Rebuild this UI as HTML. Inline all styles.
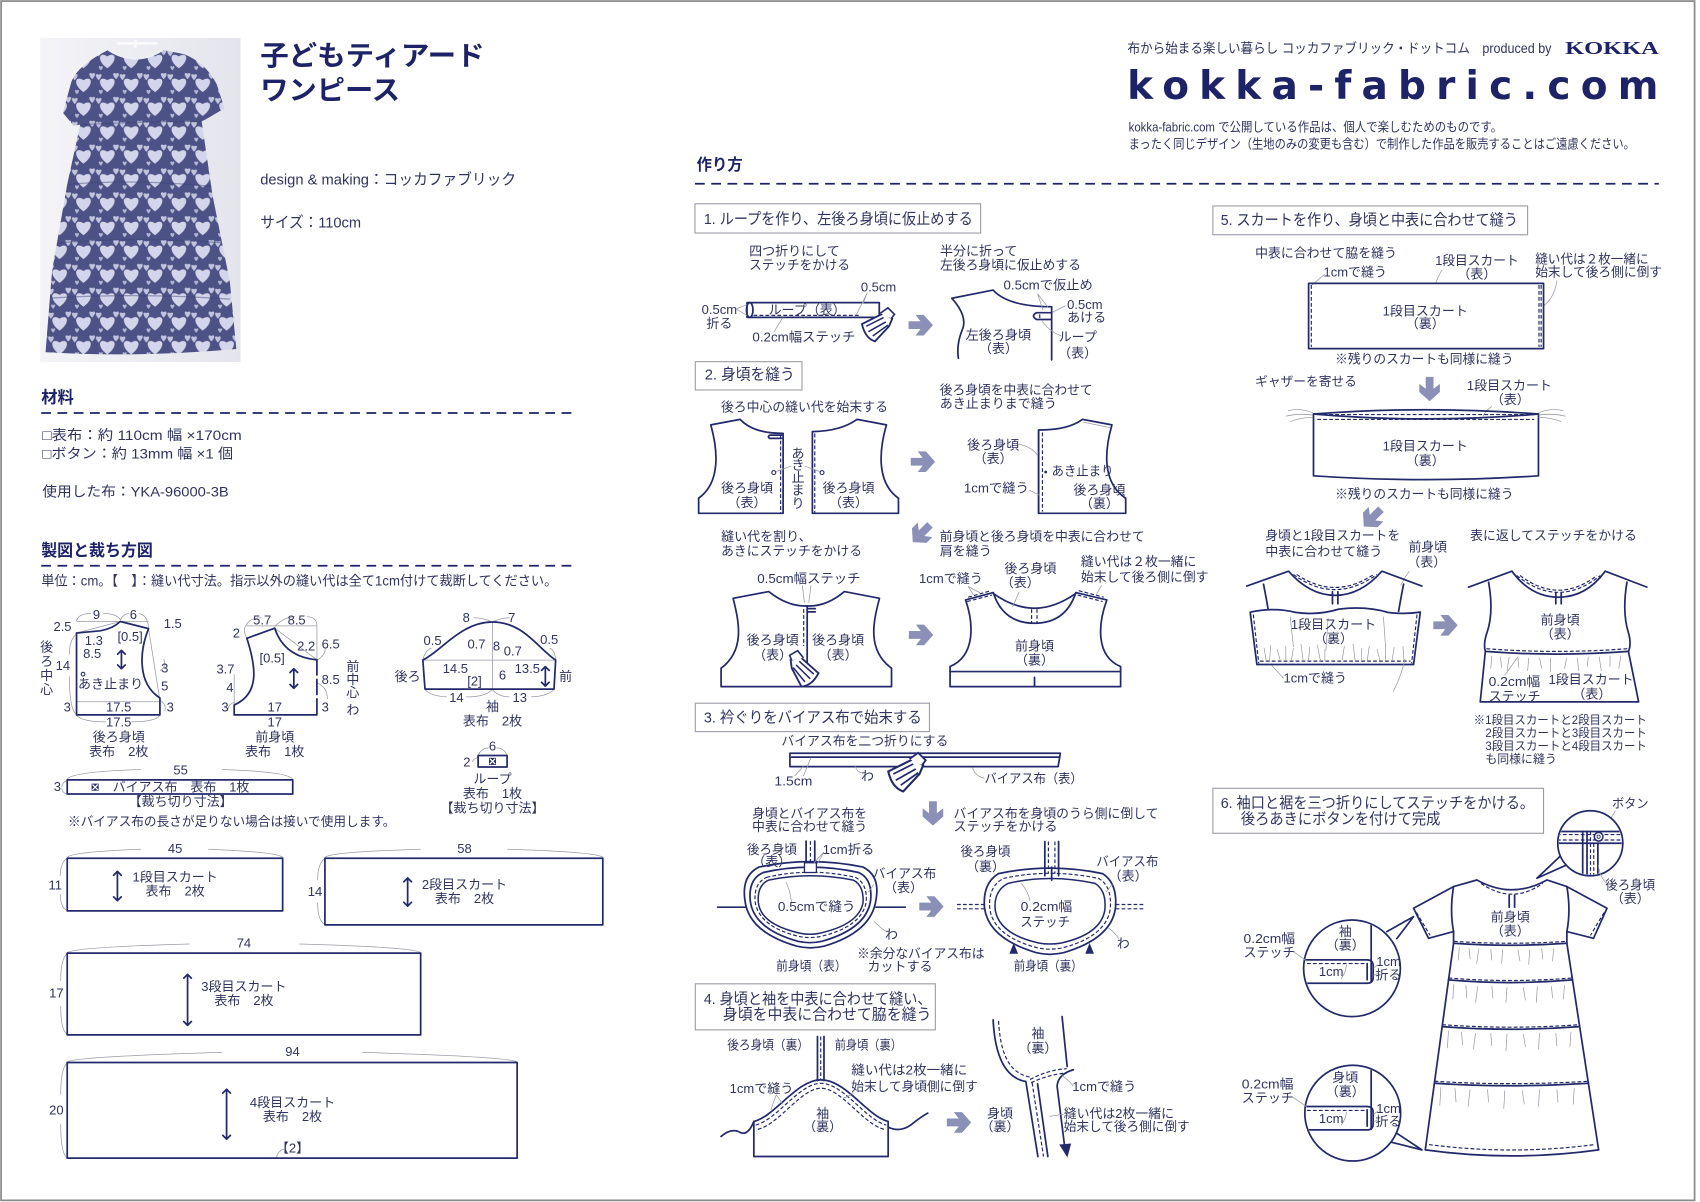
<!DOCTYPE html>
<html><head><meta charset="utf-8">
<style>
html,body{margin:0;padding:0;background:#fff;}
svg{display:block}
text{font-family:"Liberation Sans","Noto Sans CJK JP",sans-serif;fill:#30345f;}
.m{text-anchor:middle}
.e{text-anchor:end}
.h{font-weight:bold;fill:#1d2366}
.ln{fill:none;stroke:#232a6c;stroke-width:1.6;stroke-linejoin:round;stroke-linecap:round}
.lw{fill:#fff;stroke:#232a6c;stroke-width:1.6;stroke-linejoin:round}
.th{fill:none;stroke:#9a9aa6;stroke-width:0.7}
.ds{fill:none;stroke:#232a6c;stroke-width:1.1;stroke-dasharray:3.5 2}
.dl{fill:none;stroke:#1d2366;stroke-width:1.6;stroke-dasharray:9 6}
.gt{fill:none;stroke:#8e8e9c;stroke-width:0.6}
.bx{fill:#fff;stroke:#9a9aa6;stroke-width:1}
</style></head><body>
<svg width="1700" height="1202" viewBox="0 0 1568 1109" preserveAspectRatio="none" xmlns="http://www.w3.org/2000/svg">
<defs>
<pattern id="hp" width="22" height="22" patternUnits="userSpaceOnUse">
<rect width="22" height="22" fill="#4c5286"/>
<path d="M11,19 C1,12 3,3 11,8 C19,3 21,12 11,19Z" fill="#d3d6ea"/>
<path d="M3,8 C-1,4 0,1 3,3 C6,1 7,4 3,8Z" fill="#c0c4dc"/>
<path d="M19,7 C15,3 16,0 19,2 C22,0 23,3 19,7Z" fill="#c0c4dc"/>
<path d="M5,21 C2,18 3,16 5,17.5 C7,16 8,18 5,21Z" fill="#b4b8d4"/>
</pattern>
<linearGradient id="pbg" x1="0" y1="0" x2="1" y2="0">
<stop offset="0" stop-color="#f4f4f7"/><stop offset="1" stop-color="#e4e5ec"/>
</linearGradient>
<clipPath id="pc"><rect x="37" y="35" width="185" height="299"/></clipPath>
<clipPath id="c1"><circle cx="1466.8" cy="778" r="29"/></clipPath>
<clipPath id="c2"><circle cx="1247" cy="893.4" r="43.6"/></clipPath>
<clipPath id="c3"><circle cx="1247.7" cy="1027" r="43.2"/></clipPath>
<g id="arr"><path d="M-11,-3.6 L0,-3.6 L-4.5,-9.5 L3,-9.5 L11.5,0 L3,9.5 L-4.5,9.5 L0,3.6 L-11,3.6 Z" fill="#8a90b6"/></g>
<g id="iron">
<path d="M2,12 L22,2 L30,7 L27,14 L14,28 Q5,25 2,12 Z" fill="#fff" stroke="#232a6c" stroke-width="1.7"/>
<path d="M6,14 L22,6 M8,19 L24,10 M12,23 L26,13" stroke="#232a6c" stroke-width="1.4" fill="none"/>
<path d="M19,2 L26,-3 L32,3 L29,7" fill="#fff" stroke="#232a6c" stroke-width="1.5"/>
</g>
</defs>

<!-- frame -->
<rect x="1" y="1" width="1562" height="1106.5" fill="none" stroke="#8a8a8a" stroke-width="1.6"/>

<!-- photo -->
<g clip-path="url(#pc)">
<rect x="37" y="35" width="185" height="299" fill="url(#pbg)"/>
<path d="M100,46 Q125,62 150,46 L170,50 Q190,58 200,78 L207,100 L190,110 L186,112 L196,180 L212,260 L218,322 Q130,330 42,325 L48,250 L62,170 L74,115 L68,116 L58,104 L66,75 Q72,60 100,46 Z" fill="url(#hp)"/>
<path d="M100,46 Q125,62 150,46" fill="none" stroke="#eef0f6" stroke-width="2"/>
<path d="M108,40 L145,40 M125,37 L125,44" stroke="#fafafa" stroke-width="2.5"/>
<path d="M74,115 Q130,112 186,112 M63,170 Q128,165 195,172 M54,224 Q130,218 204,224 M47,275 Q130,270 212,276" stroke="#3a4074" stroke-width="1.2" fill="none" opacity="0.45"/>
</g>

<!-- title -->
<text x="240" y="60" font-size="25" class="h" textLength="207" lengthAdjust="spacingAndGlyphs">子どもティアード</text>
<text x="240" y="92" font-size="25" class="h" textLength="129" lengthAdjust="spacingAndGlyphs">ワンピース</text>
<text x="240" y="170" font-size="14" textLength="236" lengthAdjust="spacingAndGlyphs">design &amp; making：コッカファブリック</text>
<text x="240" y="210" font-size="14" textLength="93" lengthAdjust="spacingAndGlyphs">サイズ：110cm</text>

<!-- materials -->
<text x="38" y="372" font-size="15" class="h" textLength="30" lengthAdjust="spacingAndGlyphs">材料</text>
<line x1="38" y1="381" x2="530" y2="381" class="dl"/>
<text x="39" y="406" font-size="13" textLength="184" lengthAdjust="spacingAndGlyphs">□表布：約 110cm 幅 ×170cm</text>
<text x="39" y="423" font-size="13" textLength="176" lengthAdjust="spacingAndGlyphs">□ボタン：約 13mm 幅 ×1 個</text>
<text x="39" y="458" font-size="13" textLength="172" lengthAdjust="spacingAndGlyphs">使用した布：YKA-96000-3B</text>

<text x="38" y="513" font-size="15" class="h" textLength="103" lengthAdjust="spacingAndGlyphs">製図と裁ち方図</text>
<line x1="38" y1="522" x2="530" y2="522" class="dl"/>
<text x="38" y="540" font-size="12.5" textLength="476" lengthAdjust="spacingAndGlyphs">単位：cm。【　】：縫い代寸法。指示以外の縫い代は全て1cm付けて裁断してください。</text>

<!-- back bodice pattern -->
<g font-size="12">
<path d="M70.6,573.4 H137 M70.6,647.5 H147.5 M70.6,584 L111,573.4 M137,580 L147.5,646" class="th"/>
<path d="M70.6,573 Q72,566 84,566 M95,566 Q108,566 111,572 M111,572 Q114,566 119,566 M128,566 Q136,567 137,579 M70.6,585 Q64,590 64,604 M64,624 Q64,655 70.6,659 M70.6,660 Q76,666 98,666 M121,666 Q143,666 147.5,660 M147.5,646 Q154,650 152,656 M147.5,619 Q154,615 151,608" class="th"/>
<path d="M70.6,584 L92.5,582 Q104,580 111,573.4 L137,580 C129,600 126,630 147.5,644 L147.5,659.6 L70.6,659.6 Z" class="ln" stroke-width="2"/>
<text x="89" y="571.3" class="m">9</text>
<text x="123" y="571.3" class="m">6</text>
<text x="66" y="582.3" class="e">2.5</text>
<text x="151" y="579.3">1.5</text>
<text x="86.5" y="595.3" class="m">1.3</text>
<text x="120" y="591.3" class="m">[0.5]</text>
<text x="85" y="607.3" class="m">8.5</text>
<text x="58" y="618.3" class="m">14</text>
<text x="152" y="620.3" class="m">3</text>
<text x="152" y="637.3" class="m">5</text>
<text x="102" y="635.3" class="m" textLength="60" lengthAdjust="spacingAndGlyphs">あき止まり</text>
<circle cx="76.6" cy="622" r="1.7" fill="none" stroke="#232a6c" stroke-width="1"/>
<path d="M112,600 V617 M108.5,603.5 L112,600 L115.5,603.5 M108.5,613.5 L112,617 L115.5,613.5" class="ln" stroke-width="1.8"/>
<text x="62" y="656.3" class="m">3</text>
<text x="157" y="656.3" class="m">3</text>
<text x="109.5" y="656.3" class="m">17.5</text>
<text x="109.5" y="670.3" class="m">17.5</text>
<text x="43" y="601.3" class="m">後</text><text x="43" y="614.3" class="m">ろ</text><text x="43" y="627.3" class="m">中</text><text x="43" y="640.3" class="m">心</text>
<text x="109.5" y="684" class="m">後ろ身頃</text>
<text x="109.5" y="697.3" class="m">表布　2枚</text>
</g>

<!-- front bodice pattern -->
<g font-size="12">
<path d="M227.7,577.5 H292.3 V608.8 M253.4,579.6 L292.3,608.8 M216,622 V650" class="th"/>
<path d="M227.7,589 Q223,580 228,576 M241,570 Q230,570 227,577 M253.4,578 Q262,569 272,569 M292.3,577 Q292,569 283,569 M292.3,609 Q300,605 300,598 M292.3,630 Q302,634 302,645 M216,648 Q210,650 210,656" class="th"/>
<path d="M227.7,588.9 L253.4,579.6 Q262,606 292.3,608.8" class="ln" stroke-width="2"/>
<path d="M292.3,608.8 V659.6" class="ln" stroke-width="2.2" stroke-dasharray="14 4"/>
<path d="M227.7,588.9 C236,615 240,640 216,650.5 L216,659.6 L292.3,659.6" class="ln" stroke-width="2"/>
<text x="241.8" y="576.3" class="m">5.7</text>
<text x="273.6" y="576.3" class="m">8.5</text>
<text x="218" y="588.3" class="m">2</text>
<text x="282.4" y="600.3" class="m">2.2</text>
<text x="305" y="598.3" class="m">6.5</text>
<text x="251" y="611.3" class="m">[0.5]</text>
<text x="208" y="621.3" class="m">3.7</text>
<text x="212" y="638.3" class="m">4</text>
<path d="M271,617 V635 M267.5,620.5 L271,617 L274.5,620.5 M267.5,631.5 L271,635 L274.5,631.5" class="ln" stroke-width="1.8"/>
<text x="305" y="631.3" class="m">8.5</text>
<text x="325.5" y="619.3" class="m">前</text><text x="325.5" y="631.3" class="m">中</text><text x="325.5" y="643.3" class="m">心</text>
<text x="325.5" y="659.3" class="m">わ</text>
<text x="207.5" y="656.3" class="m">3</text>
<text x="300" y="656.3" class="m">3</text>
<text x="253.4" y="656.3" class="m">17</text>
<text x="253.4" y="670.3" class="m">17</text>
<text x="253.4" y="684" class="m">前身頃</text>
<text x="253.4" y="697.3" class="m">表布　1枚</text>
</g>

<!-- sleeve pattern -->
<g font-size="12">
<path d="M390,609 H512.5 M454.3,573.9 V635.8" class="th"/>
<path d="M390,609 Q392,600 398,598 M437,570 Q446,570 454,574 M454,574 Q462,570 470,570 M507,598 Q512,600 512.5,609 M392,636 Q396,642 412,643 M430,643 Q448,643 454,636 M454,636 Q460,643 470,643 M490,643 Q506,642 511,636" class="th"/>
<path d="M390,609 C408,600 425,574 454.3,573.9 C483,574 496,598 512.5,609 L511,635.8 L392,635.8 Z" class="ln" stroke-width="2"/>
<text x="430" y="573.9" class="m">8</text>
<text x="472" y="573.9" class="m">7</text>
<text x="399" y="595.3" class="m">0.5</text>
<text x="439.5" y="598.3" class="m">0.7</text>
<text x="458" y="600.3" class="m">8</text>
<text x="473" y="604.9" class="m">0.7</text>
<text x="506.5" y="594.3" class="m">0.5</text>
<text x="376" y="628.3" class="m">後ろ</text>
<text x="420" y="620.8" class="m">14.5</text>
<text x="463.5" y="627" class="m">6</text>
<text x="486.4" y="620.8" class="m">13.5</text>
<text x="521.7" y="628.3" class="m">前</text>
<text x="437.7" y="632.3" class="m">[2]</text>
<path d="M503,615 V633 M499.5,618.5 L503,615 L506.5,618.5 M499.5,629.5 L503,633 L506.5,629.5" class="ln" stroke-width="2"/>
<text x="421" y="647.9" class="m">14</text>
<text x="479.4" y="647.9" class="m">13</text>
<text x="454.3" y="656.1" class="m">袖</text>
<text x="454.3" y="669.2" class="m">表布　2枚</text>
</g>

<!-- loop pattern -->
<g font-size="12">
<path d="M441,697 Q444,690 451,690 M458,690 Q465,690 467.7,697 M441,699 Q436,700 436,703" class="th"/>
<rect x="441" y="697" width="26.7" height="10.7" class="ln" stroke-width="1.8" fill="none"/>
<rect x="451" y="699.2" width="6.5" height="6.5" fill="#232a6c"/>
<path d="M451.8,700 L456.7,704.9 M456.7,700 L451.8,704.9" stroke="#fff" stroke-width="1.2"/>
<text x="454.3" y="692.5" class="m">6</text>
<text x="430.6" y="707.3" class="m">2</text>
<text x="454.3" y="723" class="m">ループ</text>
<text x="454.3" y="736.3" class="m">表布　1枚</text>
<text x="454.3" y="749.6" class="m">【裁ち切り寸法】</text>
</g>

<!-- bias pattern -->
<g font-size="12">
<path d="M62,719 Q66,712 130,710 M205,710 Q266,712 270,719 M62,720 Q57,722 57,726 M57,727 Q57,731 62,733" class="th"/>
<rect x="62" y="719.5" width="208" height="13.1" class="ln" stroke-width="1.8" fill="none"/>
<rect x="84.5" y="723" width="6.5" height="6.5" fill="#232a6c"/>
<path d="M85.3,723.8 L90.2,728.7 M90.2,723.8 L85.3,728.7" stroke="#fff" stroke-width="1.2"/>
<text x="166.6" y="714.6" class="m">55</text>
<text x="52.9" y="730" class="m">3</text>
<text x="104" y="730.3" textLength="126" lengthAdjust="spacingAndGlyphs">バイアス布　表布　1枚</text>
<text x="166.6" y="743.8" class="m">【裁ち切り寸法】</text>
<text x="62.7" y="762.3" textLength="302" lengthAdjust="spacingAndGlyphs">※バイアス布の長さが足りない場合は接いで使用します。</text>
</g>

<!-- skirts -->
<g font-size="12">
<path d="M62,791 Q66,786 130,783.5 M192,783.5 Q256,786 260.7,791 M62,792 Q56,795 55.5,808 M55.5,825 Q56,838 62,840" class="th"/>
<rect x="62" y="791.8" width="198.7" height="48.6" class="ln" fill="none"/>
<text x="161.5" y="786.8" class="m">45</text>
<text x="51" y="820.8" class="m">11</text>
<path d="M108.3,804 V831 M104.8,807.5 L108.3,804 L111.8,807.5 M104.8,827.5 L108.3,831 L111.8,827.5" class="ln"/>
<text x="161.5" y="813.3" class="m">1段目スカート</text>
<text x="161.5" y="826.3" class="m">表布　2枚</text>

<path d="M300,791 Q305,786 388,783.5 M468,783.5 Q551,786 556,791 M300,792 Q293,796 293,812 M293,833 Q293,850 300,853" class="th"/>
<rect x="299.7" y="791.8" width="256.3" height="61.5" class="ln" fill="none"/>
<text x="428.4" y="786.8" class="m">58</text>
<text x="290.5" y="826.9" class="m">14</text>
<path d="M376,810 V836 M372.5,813.5 L376,810 L379.5,813.5 M372.5,832.5 L376,836 L379.5,832.5" class="ln"/>
<text x="428.4" y="820.1" class="m">2段目スカート</text>
<text x="428.4" y="833" class="m">表布　2枚</text>

<path d="M62,879 Q66,874 175,871 M276,871 Q384,874 388,879 M62,880 Q56,884 56,905 M56,928 Q56,951 62,954" class="th"/>
<rect x="62" y="879.4" width="326" height="75.4" class="ln" fill="none"/>
<text x="225" y="874.3" class="m">74</text>
<text x="52" y="920.5" class="m">17</text>
<path d="M173,899 V946 M169.5,902.5 L173,899 L176.5,902.5 M169.5,942.5 L173,946 L176.5,942.5" class="ln"/>
<text x="225" y="914.4" class="m">3段目スカート</text>
<text x="225" y="927.3" class="m">表布　2枚</text>

<path d="M62,980 Q66,975 205,971 M334,971 Q472,975 477,980 M62,981 Q56,985 56,1010 M56,1037 Q56,1065 62,1068 M255,1068 Q256,1062 262,1060" class="th"/>
<rect x="62" y="980.3" width="415" height="88.2" class="ln" fill="none"/>
<text x="269.8" y="974.5" class="m">94</text>
<text x="52" y="1028.2" class="m">20</text>
<path d="M209,1005 V1051 M205.5,1008.5 L209,1005 L212.5,1008.5 M205.5,1047.5 L209,1051 L212.5,1047.5" class="ln"/>
<text x="269.8" y="1021.5" class="m">4段目スカート</text>
<text x="269.8" y="1034.3" class="m">表布　2枚</text>
<text x="269.8" y="1063.3" class="m">【2】</text>
</g>

<!-- right header -->
<text x="1040" y="49" font-size="12.5" textLength="391" lengthAdjust="spacingAndGlyphs">布から始まる楽しい暮らし コッカファブリック・ドットコム　produced by</text>
<text x="1443.6" y="50" font-size="17" font-weight="bold" textLength="86.4" lengthAdjust="spacingAndGlyphs" style="font-family:'Liberation Serif',serif;fill:#1d2366">KOKKA</text>
<text x="1039.6" y="91.5" font-size="36" font-weight="bold" textLength="490" lengthAdjust="spacing" style="font-family:'DejaVu Sans',sans-serif;fill:#1d2366">kokka-fabric.com</text>
<text x="1041" y="121.5" font-size="12" textLength="344.5" lengthAdjust="spacingAndGlyphs">kokka-fabric.com で公開している作品は、個人で楽しむためのものです。</text>
<text x="1041" y="136.8" font-size="12" textLength="467" lengthAdjust="spacingAndGlyphs">まったく同じデザイン（生地のみの変更も含む）で制作した作品を販売することはご遠慮ください。</text>

<text x="642.6" y="156.8" font-size="14.5" class="h" textLength="42.4" lengthAdjust="spacingAndGlyphs">作り方</text>
<line x1="641" y1="169.5" x2="1530" y2="169.5" class="dl"/>

<!-- STEP 1 -->
<g font-size="12">
<rect x="641" y="188" width="263.5" height="27" class="bx"/>
<text x="649.2" y="206.5" font-size="14" textLength="248" lengthAdjust="spacingAndGlyphs">1. ループを作り、左後ろ身頃に仮止めする</text>
<text x="691" y="235.6">四つ折りにして</text>
<text x="691" y="248.5" textLength="93" lengthAdjust="spacingAndGlyphs">ステッチをかける</text>
<text x="867" y="235.6">半分に折って</text>
<text x="867" y="248.5" textLength="130" lengthAdjust="spacingAndGlyphs">左後ろ身頃に仮止めする</text>
<rect x="689" y="279.2" width="122" height="13.6" class="ln"/>
<ellipse cx="691.5" cy="286" rx="3" ry="6.8" class="ln" stroke-width="1.3"/>
<path d="M695,291 H792" class="ds"/>
<text x="744.5" y="290.3" class="m">ループ（表）</text>
<text x="794" y="268.8">0.5cm</text>
<path d="M800,270 L796,280 M800,270 L790,290" class="th"/>
<text x="663.5" y="289.5" class="m">0.5cm</text>
<text x="663.5" y="302.5" class="m">折る</text>
<path d="M679,285 L689,281 M679,285 L689,291" class="th"/>
<text x="694" y="315" textLength="95" lengthAdjust="spacingAndGlyphs">0.2cm幅ステッチ</text>
<path d="M714,306 L722,293" class="th"/>
<use href="#iron" transform="translate(793,287)"/>
<use href="#arr" transform="translate(849,300)"/>
<path d="M878,275.2 L916,267.6 Q930,283 970,283 L970,332" class="ln"/>
<path d="M878,275.2 Q893,292 887.5,304.4 Q882,318 884,330.6" class="ln"/>
<path d="M969,288.5 L956,288.5 Q950.5,291.5 956,294.8 L969,294.8" class="ln" stroke-width="1.3"/>
<path d="M959,290 V293.5" class="ds"/>
<text x="925.6" y="267.3" textLength="82.4" lengthAdjust="spacingAndGlyphs">0.5cmで仮止め</text>
<path d="M957,271 L962,286 M957,271 L967,284" class="th"/>
<text x="984.3" y="285">0.5cm</text>
<text x="984.3" y="297.3">あける</text>
<path d="M983,282 L971,288" class="th"/>
<text x="890.6" y="313.4" textLength="60.4" lengthAdjust="spacingAndGlyphs">左後ろ身頃</text>
<text x="921" y="325.7" class="m">（表）</text>
<text x="976.4" y="315">ループ</text>
<text x="994" y="330" class="m">（表）</text>
<path d="M979,310 Q968,306 961,296" class="th"/>
</g>

<!-- STEP 2 -->
<g font-size="12">
<rect x="641.3" y="333.7" width="98.4" height="26.1" class="bx"/>
<text x="650" y="350" font-size="14" textLength="83" lengthAdjust="spacingAndGlyphs">2. 身頃を縫う</text>
<text x="665" y="379.5" textLength="154" lengthAdjust="spacingAndGlyphs">後ろ中心の縫い代を始末する</text>
<path d="M655.6,392 L682.6,386.9 Q695,400 722.3,399.8 L722.3,473.6 L644.4,473.6 L644.4,459.7 C665,445 662,415 655.6,392 Z" class="ln"/>
<path d="M720,401 V473" class="ds" stroke-width="0.9"/>
<path d="M710,401.5 L721,401.5 M710,404.5 L721,404.5 M710,401.5 Q707.5,403 710,404.5" class="ln" stroke-width="1"/>
<circle cx="713.7" cy="436" r="1.8" fill="#fff" stroke="#232a6c" stroke-width="1"/>
<path d="M749.3,398.2 Q775,398 790.6,386.9 L817.6,392 C811,415 808,445 828.7,459.7 L828.7,473.6 L749.3,473.6 Z" class="ln"/>
<path d="M751.5,400 V473" class="ds" stroke-width="0.9"/>
<circle cx="758.2" cy="436" r="1.8" fill="#fff" stroke="#232a6c" stroke-width="1"/>
<path d="M716,435 L730,430 M756,435 L742,430" class="th"/>
<text x="736" y="422.5" class="m">あ</text><text x="736" y="433.3" class="m">き</text><text x="736" y="444.7" class="m">止</text><text x="736" y="456.3" class="m">ま</text><text x="736" y="468.7" class="m">り</text>
<text x="689" y="454.2" class="m">後ろ身頃</text><text x="689" y="467.7" class="m">（表）</text>
<text x="782.6" y="454.2" class="m">後ろ身頃</text><text x="782.6" y="467.7" class="m">（表）</text>
<use href="#arr" transform="translate(851,426)"/>
<text x="866.8" y="364" textLength="141" lengthAdjust="spacingAndGlyphs">後ろ身頃を中表に合わせて</text>
<text x="866.8" y="376.4">あき止まりまで縫う</text>
<path d="M958,396.7 Q985,397 998.5,386.9 L1025.6,392 C1019,415 1016,445 1038.3,459.7 L1038.3,473.6 L958,473.6 Z" class="ln"/>
<path d="M958,397 V473.6" class="ln" stroke-width="2.6"/>
<path d="M961.5,399 V472" class="ds"/>
<path d="M999,389.5 L1024,394.5" class="th"/>
<text x="916" y="414.8" class="m">後ろ身頃</text><text x="916" y="427" class="m">（表）</text>
<path d="M939,410 Q950,411 957,420" class="th"/>
<circle cx="964.5" cy="435.5" r="1.3" fill="#232a6c"/>
<text x="970" y="438.8" textLength="57" lengthAdjust="spacingAndGlyphs">あき止まり</text>
<text x="889" y="454.2" textLength="60" lengthAdjust="spacingAndGlyphs">1cmで縫う</text>
<path d="M949,452 L959,457" class="th"/>
<text x="1014" y="456.3" class="m">後ろ身頃</text><text x="1014" y="468.7" class="m">（裏）</text>

<use href="#arr" transform="translate(850,492) rotate(135)"/>
<text x="665.1" y="499.3">縫い代を割り、</text>
<text x="665.1" y="512.3" textLength="130" lengthAdjust="spacingAndGlyphs">あきにステッチをかける</text>
<text x="866.8" y="499.3" textLength="189" lengthAdjust="spacingAndGlyphs">前身頃と後ろ身頃を中表に合わせて</text>
<text x="866.8" y="512.3">肩を縫う</text>
<text x="698.4" y="537.8" textLength="95.3" lengthAdjust="spacingAndGlyphs">0.5cm幅ステッチ</text>
<path d="M740,540 L742,556 M748,540 L746,556" class="th"/>
<path d="M676.2,552 L709,545.8 Q727,560 744.5,559 Q762,560 778.8,545.8 L811.2,552 C805,575 800,600 822.3,616.5 L822.3,633.5 L665.1,633.5 L665.1,616.5 C687,600 682,575 676.2,552 Z" class="ln"/>
<path d="M744.5,559 V628" class="ln"/>
<path d="M741.3,562 V596" class="ds"/>
<path d="M745,561.5 L752,561.5 M745,564.5 L752,564.5" class="ln" stroke-width="1"/>
<use href="#iron" transform="translate(760,610) scale(-1,1) rotate(-15)"/>
<text x="712.7" y="594.7" class="m">後ろ身頃</text><text x="712.7" y="608.5" class="m">（表）</text>
<text x="773.1" y="594.7" class="m">後ろ身頃</text><text x="773.1" y="608.5" class="m">（表）</text>
<use href="#arr" transform="translate(849.3,585.8)"/>
<path d="M890.6,553.5 L916.1,546.7 Q925,575 954.2,575 Q983,575 992.3,546.7 L1020.9,553.5 C1013,575 1010,605 1033.6,615 L1033.6,633.5 L876.3,633.5 L876.3,615 C900,605 898,575 890.6,553.5 Z" class="ln"/>
<path d="M876.3,619.6 H1033.6 M954.2,625 V633.5" class="ln" stroke-width="1.3"/>
<path d="M916.1,547.5 Q935,561 954.2,561.2 Q973,561 992.3,547.5" class="ln" stroke-width="1.2"/>
<path d="M951.5,562 V575 M956.5,562 V575" class="ds"/>
<path d="M893,551 L914,545 M995,545 L1018,551" class="ds"/>
<path d="M892,555 L915,549 M994,549 L1017,555" class="ds" stroke-width="0.8"/>
<text x="847.7" y="537.8" textLength="58.8" lengthAdjust="spacingAndGlyphs">1cmで縫う</text>
<path d="M893,541 L898,549 M893,541 L904,547" class="th"/>
<text x="950.4" y="528.6" class="m">後ろ身頃</text><text x="941" y="541.8" class="m">（表）</text>
<path d="M940,546 L934,560" class="th"/>
<text x="997" y="522.4" textLength="106.5" lengthAdjust="spacingAndGlyphs">縫い代は２枚一緒に</text>
<text x="997" y="536.3" textLength="117.6" lengthAdjust="spacingAndGlyphs">始末して後ろ側に倒す</text>
<path d="M1016,540 L1011,549" class="th"/>
<text x="954.2" y="600.3" class="m">前身頃</text><text x="954.2" y="613.2" class="m">（裏）</text>
</g>

<!-- STEP 3 -->
<g font-size="12">
<rect x="641.3" y="648.8" width="216" height="26.2" class="bx"/>
<text x="649.2" y="666.5" font-size="14" textLength="201" lengthAdjust="spacingAndGlyphs">3. 衿ぐりをバイアス布で始末する</text>
<text x="720.7" y="687.9" textLength="154" lengthAdjust="spacingAndGlyphs">バイアス布を二つ折りにする</text>
<path d="M728.6,695 L978,695 L976,707.3 L728.6,707.3 Z" class="ln" stroke-width="1.5"/>
<path d="M730,698.5 H977" class="ln" stroke-width="1"/>
<text x="714.3" y="724.8" textLength="35" lengthAdjust="spacingAndGlyphs">1.5cm</text>
<path d="M733,716 L741,707 M741,716 L748,699" class="th"/>
<text x="800.1" y="720.2" class="m">わ</text>
<path d="M795,713 Q790,712 789,707" class="th"/>
<use href="#iron" transform="translate(817,698) scale(1.15)"/>
<text x="908.1" y="722.3" textLength="90.5" lengthAdjust="spacingAndGlyphs">バイアス布（表）</text>
<path d="M908,718 Q899,716 897,708" class="th"/>
<use href="#arr" transform="translate(860.5,750.3) rotate(90)"/>
<text x="693.7" y="754.6" textLength="106" lengthAdjust="spacingAndGlyphs">身頃とバイアス布を</text>
<text x="693.7" y="766.9" textLength="106" lengthAdjust="spacingAndGlyphs">中表に合わせて縫う</text>
<text x="879.5" y="754.6" textLength="189" lengthAdjust="spacingAndGlyphs">バイアス布を身頃のうら側に倒して</text>
<text x="879.5" y="766.9">ステッチをかける</text>

<!-- left ring -->
<path d="M661.9,837 H687.3 M808,837 H835" class="ln"/>
<path d="M700,800 Q747,790 796,800 Q812,808 808,830 Q804,860 760,873 Q747,876 735,873 Q690,860 687,830 Q684,808 700,800 Z" class="lw"/>
<path d="M704,805 Q747,795 792,805 Q805,811 803,831 Q799,857 758,868.5 Q747,871 736,868.5 Q695,857 692,831 Q690,811 704,805 Z" class="ln" stroke-width="1.2"/>
<path d="M707,809.5 Q747,800 789,809.5 Q800,815 799,832 Q795,855 757,864 Q747,866 737,864 Q700,855 696.5,832 Q695,815 707,809.5 Z" class="ds"/>
<path d="M709,812 Q747,804 787,812 Q797,817 796,833 Q792,853 756,861 Q747,863 738,861 Q702,853 699.5,833 Q698,817 709,812 Z" fill="#fff" stroke="#232a6c" stroke-width="1.4"/>
<path d="M743.5,776 V797 M751.5,776 V797" class="ln" stroke-width="1.4"/>
<path d="M747.5,776 V797" class="ds"/>
<rect x="742" y="796" width="11" height="9" fill="#fff" stroke="#232a6c" stroke-width="1.2"/>
<text x="689" y="787.8" textLength="46" lengthAdjust="spacingAndGlyphs">後ろ身頃</text>
<text x="711.8" y="799.2" class="m">（表）</text>
<text x="758.8" y="787.8" textLength="47.6" lengthAdjust="spacingAndGlyphs">1cm折る</text>
<path d="M760,786 L750,797 M760,786 L754,797" class="th"/>
<text x="717.5" y="840.7" textLength="71.5" lengthAdjust="spacingAndGlyphs">0.5cmで縫う</text>
<path d="M730,832 Q729,822 725,814" class="th"/>
<text x="804.9" y="809.9" textLength="58.7" lengthAdjust="spacingAndGlyphs">バイアス布</text>
<text x="833.4" y="823.2" class="m">（表）</text>
<path d="M806,816 L801,823" class="th"/>
<text x="822.3" y="866.3" class="m">わ</text>
<path d="M818,860 Q812,856 806,850" class="th"/>
<text x="790.6" y="883.8" textLength="117.5" lengthAdjust="spacingAndGlyphs">※余分なバイアス布は</text>
<text x="800.1" y="896.1">カットする</text>
<text x="715.9" y="895.4" textLength="65" lengthAdjust="spacingAndGlyphs">前身頃（表）</text>
<use href="#arr" transform="translate(858.9,836.4)"/>

<!-- right ring -->
<path d="M882.7,834.5 H908 M882.7,838.5 H908 M1029,834.5 H1055.8 M1029,838.5 H1055.8" class="ds"/>
<path d="M921,806 Q968,796 1017,806 Q1031,815 1028.8,838 Q1025,866 981,879 Q968,882 956,879 Q912,866 908.1,838 Q906,815 921,806 Z" class="lw"/>
<path d="M925.5,810.5 Q968,801 1013.5,810.5 Q1026,818 1024,839 Q1020,864 980,874.5 Q968,877 957,874.5 Q917,864 913,839 Q911,818 925.5,810.5 Z" class="ds"/>
<path d="M930,815 Q968,806 1010,815 Q1021,822 1019,840 Q1015,862 979,870 Q968,872 958,870 Q922,862 918,840 Q916,822 930,815 Z" fill="#fff" stroke="#232a6c" stroke-width="1.4"/>
<path d="M963.7,776.4 V808 M976.4,776.4 V808" class="ln" stroke-width="1.4"/>
<path d="M967,776.4 V806 M973,776.4 V806" class="ds"/>
<path d="M970,800 V812" class="ln" stroke-width="1.2"/>
<path d="M931,880 L935,870 L939,880 Z M1001,880 L1005,870 L1009,880 Z" fill="#232a6c"/>
<text x="885.9" y="790" textLength="46" lengthAdjust="spacingAndGlyphs">後ろ身頃</text>
<text x="909" y="803.8" class="m">（裏）</text>
<text x="1011.3" y="799.2" textLength="57" lengthAdjust="spacingAndGlyphs">バイアス布</text>
<text x="1040.6" y="812.4" class="m">（表）</text>
<path d="M1026,816 L1020,823" class="th"/>
<text x="941.4" y="840.7" textLength="47.6" lengthAdjust="spacingAndGlyphs">0.2cm幅</text>
<text x="941" y="854.6" textLength="46" lengthAdjust="spacingAndGlyphs">ステッチ</text>
<path d="M950,831 Q948,822 942,815" class="th"/>
<text x="1036" y="874.5" class="m">わ</text>
<path d="M1032,866 Q1028,860 1022,856" class="th"/>
<text x="935" y="895.4" textLength="63.6" lengthAdjust="spacingAndGlyphs">前身頃（裏）</text>
</g>

<!-- STEP 4 -->
<g font-size="12">
<rect x="641.3" y="907.7" width="221.4" height="42.5" class="bx"/>
<text x="649.2" y="926.2" font-size="14" textLength="210" lengthAdjust="spacingAndGlyphs">4. 身頃と袖を中表に合わせて縫い、</text>
<text x="666.7" y="940.6" font-size="14" textLength="192.4" lengthAdjust="spacingAndGlyphs">身頃を中表に合わせて脇を縫う</text>
<text x="670.8" y="968.3" textLength="75.3" lengthAdjust="spacingAndGlyphs">後ろ身頃（裏）</text>
<text x="769.9" y="968.3" textLength="62" lengthAdjust="spacingAndGlyphs">前身頃（裏）</text>
<path d="M754,956.3 V997 M760,956.3 V997" class="ln" stroke-width="1.2"/>
<path d="M757,956.3 V997" class="ds" stroke-width="0.8"/>
<path d="M665.1,1048.5 Q675,1040 683,1045 Q690,1048 695.3,1034.7 M819.2,1040 Q830,1045 840,1038 Q850,1030 855.7,1027" class="ln" stroke-width="1.3"/>
<path d="M695.3,1034.7 C715,1030 735,996 757.2,996.3 C780,996 800,1030 819.2,1034.7 L819.2,1067 L695.3,1067 Z" class="ln"/>
<path d="M697,1038 C717,1033 737,999.5 757.2,999.5 C778,999.5 798,1033 817.5,1038" class="ds" stroke-width="0.8"/>
<path d="M699,1042 C719,1037 739,1004 757.2,1004 C776,1004 796,1037 815.5,1042" class="ds"/>
<text x="673" y="1008.3" textLength="58.8" lengthAdjust="spacingAndGlyphs">1cmで縫う</text>
<path d="M716,1010 L722,1019 M716,1010 L711,1024" class="th"/>
<text x="785.2" y="991.3" textLength="107" lengthAdjust="spacingAndGlyphs">縫い代は2枚一緒に</text>
<text x="785.2" y="1006.7" textLength="116.6" lengthAdjust="spacingAndGlyphs">始末して身頃側に倒す</text>
<path d="M788,1006 Q784,1012 778,1013" class="th"/>
<text x="758.8" y="1031.3" class="m">袖</text>
<text x="758.8" y="1043.6" class="m">（裏）</text>
<use href="#arr" transform="translate(884.3,1035.6)"/>
<path d="M916,941 C918,980 930,995 946.2,997.8 L957.3,1067" class="ln"/>
<path d="M921,942 C923,978 934,991 951,994" class="ds"/>
<path d="M979.6,937.9 L984.3,984" class="ln"/>
<path d="M950,996 Q967,987 984,986 M951,999 Q968,991 984,990" class="ds"/>
<path d="M952,999 L962.5,1067" class="ds"/>
<path d="M957,1000 L966.5,1067" class="ln" stroke-width="1.2"/>
<path d="M990,987 Q976,991 975,1002 L982,1058" class="ln" stroke-width="2.2"/>
<path d="M977,1056 L984.5,1068 L988,1055 Z" fill="#232a6c"/>
<text x="957.3" y="957.5" class="m">袖</text>
<text x="957.3" y="971.3" class="m">（裏）</text>
<text x="922.4" y="1031.3" class="m">身頃</text>
<text x="922.4" y="1043.6" class="m">（裏）</text>
<text x="989" y="1006.7" textLength="59" lengthAdjust="spacingAndGlyphs">1cmで縫う</text>
<path d="M990,1002 Q985,996 978,991" class="th"/>
<text x="981.2" y="1031.3" textLength="101.6" lengthAdjust="spacingAndGlyphs">縫い代は2枚一緒に</text>
<text x="981.2" y="1043.6" textLength="116" lengthAdjust="spacingAndGlyphs">始末して後ろ側に倒す</text>
<path d="M981,1028 L968,1030" class="th"/>
</g>

<!-- STEP 5 -->
<g font-size="12">
<rect x="1118.7" y="190" width="290.3" height="26.6" class="bx"/>
<text x="1126" y="207.5" font-size="14" textLength="274" lengthAdjust="spacingAndGlyphs">5. スカートを作り、身頃と中表に合わせて縫う</text>
<text x="1157.7" y="237.4" textLength="130.7" lengthAdjust="spacingAndGlyphs">中表に合わせて脇を縫う</text>
<text x="1220.8" y="255.3" textLength="58.4" lengthAdjust="spacingAndGlyphs">1cmで縫う</text>
<path d="M1222,253 L1210,263" class="th"/>
<text x="1323.8" y="244.3" textLength="77" lengthAdjust="spacingAndGlyphs">1段目スカート</text>
<text x="1362.2" y="257.1" class="m">（表）</text>
<path d="M1330,249 Q1326,256 1324,262" class="th"/>
<text x="1416" y="243.3" textLength="104.6" lengthAdjust="spacingAndGlyphs">縫い代は２枚一緒に</text>
<text x="1416" y="255.3" textLength="117" lengthAdjust="spacingAndGlyphs">始末して後ろ側に倒す</text>
<path d="M1436,259 Q1434,274 1424,282" class="th"/>
<rect x="1207" y="261.4" width="216.7" height="60.3" class="ln"/>
<path d="M1209.5,263 V320 M1419.5,263 V320 M1421.5,263 V320" class="ds"/>
<text x="1314.6" y="290.9" class="m">1段目スカート</text>
<text x="1314.6" y="302.6" class="m">（裏）</text>
<text x="1231.5" y="335.3" textLength="164.5" lengthAdjust="spacingAndGlyphs">※残りのスカートも同様に縫う</text>
<text x="1157.7" y="356.3" textLength="93.8" lengthAdjust="spacingAndGlyphs">ギャザーを寄せる</text>
<use href="#arr" transform="translate(1318.6,358.7) rotate(90)"/>
<text x="1353" y="359.8" textLength="78.4" lengthAdjust="spacingAndGlyphs">1段目スカート</text>
<text x="1393" y="372.6" class="m">（表）</text>
<path d="M1376,375 Q1370,379 1368,384" class="th"/>
<path d="M1211.5,382 Q1315,374 1419,382 L1419,439 Q1315,446 1211.5,439 Z" class="ln"/>
<path d="M1211.5,382 Q1315,391 1419,382" class="ln" stroke-width="1"/>
<path d="M1215,382.5 H1415 M1215,387 H1415" class="ds" stroke="#5a6090"/>
<path d="M1211,381 Q1200,376 1188,379 M1211,383 Q1198,381 1186,384 M1211,385 Q1200,385 1190,389 M1419,381 Q1430,376 1442,379 M1419,383 Q1432,381 1444,384 M1419,385 Q1430,385 1440,389" class="gt"/>
<text x="1314.6" y="415.7" class="m">1段目スカート</text>
<text x="1314.6" y="428.8" class="m">（裏）</text>
<text x="1231.5" y="459.8" textLength="164.5" lengthAdjust="spacingAndGlyphs">※残りのスカートも同様に縫う</text>
<use href="#arr" transform="translate(1266,477.6) rotate(135)"/>
<text x="1167" y="498.4" textLength="124.5" lengthAdjust="spacingAndGlyphs">身頃と1段目スカートを</text>
<text x="1167" y="512.9">中表に合わせて縫う</text>
<text x="1299.2" y="508.8" textLength="35.3" lengthAdjust="spacingAndGlyphs">前身頃</text>
<text x="1316" y="522.6" class="m">（表）</text>
<path d="M1300,527 Q1296,532 1292,540" class="th"/>
<!-- left assembly -->
<path d="M1150,540.7 L1188.5,527 Q1208,549.3 1231.5,549.3 Q1255,549.3 1274.6,527 L1311.5,540.7" class="ln"/>
<path d="M1165.4,539 Q1168,552 1170,564 M1294.6,539 Q1292,552 1290,564" class="ln" stroke-width="1.3"/>
<path d="M1193,530 Q1231,558 1270,530 M1196,530 Q1231,554 1267,530" class="ds"/>
<path d="M1229,546 V557 M1234,546 V557" class="ln" stroke-width="1.2"/>
<path d="M1153.1,564.8 Q1175,560 1195,565 Q1215,568 1235,562 Q1260,559 1280,565 Q1295,567 1310,564.8 L1303.8,613.1 L1159.3,613.1 Z" class="lw"/>
<path d="M1156,567 L1161,612 M1307,567 L1302,612" class="ds"/>
<path d="M1162,610 H1301" class="ds"/>
<path d="M1166,598 l2,12 M1172,595 l-1,15 M1178,599 l3,11 M1186,596 l0,14 M1193,598 l-2,12 M1200,594 l2,16 M1208,597 l-1,12 M1215,595 l3,15 M1222,599 l0,11 M1240,596 l-2,13 M1248,594 l2,16 M1256,598 l0,12 M1263,596 l-2,14 M1270,599 l3,11 M1278,595 l0,15 M1286,597 l-2,12 M1294,596 l1,14 M1190,569 l3,28 M1225,570 l-2,30 M1276,569 l2,28" class="gt"/>
<text x="1230" y="580.5" class="m">1段目スカート</text>
<text x="1230" y="593.3" class="m">（裏）</text>
<text x="1183.9" y="629.5" textLength="58.4" lengthAdjust="spacingAndGlyphs">1cmで縫う</text>
<path d="M1184,626 L1173,614" class="th"/>
<path d="M1296,608 Q1292,625 1285,638" class="th"/>
<use href="#arr" transform="translate(1333,576.9)"/>
<text x="1356" y="498.4" textLength="153.8" lengthAdjust="spacingAndGlyphs">表に返してステッチをかける</text>
<!-- right assembly -->
<path d="M1354.5,541.7 L1394.5,527 Q1412,551 1437.6,551 Q1463,551 1480.6,527 L1519,541.7" class="ln"/>
<path d="M1373,537.2 Q1378,565 1371.5,583.8 Q1368,594 1370,601 M1500.6,537.2 Q1496,565 1502,583.8 Q1505,594 1502,601" class="ln" stroke-width="1.4"/>
<path d="M1399,531 Q1437.6,562 1476,531 M1402,531 Q1437.6,558 1473,531" class="ds"/>
<path d="M1435,547 V557 M1440,547 V557" class="ln" stroke-width="1.2"/>
<path d="M1370,601 L1365.3,647.6 L1511.4,647.6 L1502,601" class="ln"/>
<path d="M1370,601 Q1436,606 1502,601" class="ln" stroke-width="1.2"/>
<path d="M1371,598.5 Q1436,603.5 1501,598.5" class="ds" stroke-width="1.6"/>
<path d="M1376,605 l-1,12 M1384,606 l1,10 M1392,606 l-2,13 M1400,607 l1,9 M1410,607 l-1,12 M1420,607 l2,10 M1430,607 l0,13 M1445,607 l-2,10 M1455,607 l1,12 M1465,606 l-1,9 M1475,606 l2,13 M1485,605 l0,10 M1495,605 l-2,12" class="gt"/>
<text x="1439" y="576" class="m">前身頃</text>
<text x="1439" y="589.1" class="m">（表）</text>
<text x="1373" y="632.9" textLength="47.7" lengthAdjust="spacingAndGlyphs">0.2cm幅</text>
<text x="1373" y="646.7">ステッチ</text>
<path d="M1388,623 L1400,606" class="th"/>
<text x="1428.3" y="631.2" textLength="78.5" lengthAdjust="spacingAndGlyphs">1段目スカート</text>
<text x="1468.3" y="644.3" class="m">（表）</text>
<g font-size="11">
<text x="1359.2" y="667.9" textLength="159.8" lengthAdjust="spacingAndGlyphs">※1段目スカートと2段目スカート</text>
<text x="1370" y="680" textLength="149" lengthAdjust="spacingAndGlyphs">2段目スカートと3段目スカート</text>
<text x="1370" y="692.1" textLength="149" lengthAdjust="spacingAndGlyphs">3段目スカートと4段目スカート</text>
<text x="1370" y="704.1">も同様に縫う</text>
</g>
</g>

<!-- STEP 6 -->
<g font-size="12">
<rect x="1118.7" y="727.3" width="305" height="41.5" class="bx"/>
<text x="1126" y="745.6" font-size="14" textLength="289" lengthAdjust="spacingAndGlyphs">6. 袖口と裾を三つ折りにしてステッチをかける。</text>
<text x="1144.5" y="760.4" font-size="14" textLength="184" lengthAdjust="spacingAndGlyphs">後ろあきにボタンを付けて完成</text>
<text x="1486.8" y="745.4" textLength="33.8" lengthAdjust="spacingAndGlyphs">ボタン</text>
<path d="M1490,748 Q1484,758 1478,768" class="th"/>
<!-- button magnifier -->
<path d="M1445,798 L1417.6,810.3 L1439,790" class="ln" stroke-width="1.4"/>
<circle cx="1466.8" cy="778" r="30" class="lw"/>
<g clip-path="url(#c1)">
<path d="M1436,767.2 H1498 M1436,778 H1498" class="ln" stroke-width="1.3"/>
<path d="M1436,770 H1498 M1436,775 H1498" class="ds" stroke-width="0.8"/>
<path d="M1459.8,767 V810 M1463.8,767 V810 M1473.8,778 V810" class="ln" stroke-width="1.2"/>
<path d="M1467,767 V810 M1470,778 V810" class="ds" stroke-width="0.8"/>
</g>
<circle cx="1474.5" cy="772" r="4" fill="#fff" stroke="#232a6c" stroke-width="1.4"/>
<circle cx="1474.5" cy="772" r="1.5" fill="none" stroke="#232a6c" stroke-width="0.8"/>
<text x="1480.6" y="820.8" textLength="46" lengthAdjust="spacingAndGlyphs">後ろ身頃</text>
<text x="1503.7" y="833.1" class="m">（表）</text>
<path d="M1482,815 Q1476,810 1474,798" class="th"/>
<!-- dress -->
<path d="M1362.2,811.9 Q1394.5,830 1426.8,811.9" class="ln"/>
<path d="M1362.2,811.9 L1340.7,818 L1303.8,838 L1317.6,865.7 L1340.7,859.5 L1340.7,870.3 L1314.6,1060.9 Q1394.5,1072 1474.5,1060.9 L1445.2,870.3 L1445.2,859.5 L1469.8,865.7 L1482.2,838 L1445.2,818 L1426.8,811.9" class="ln"/>
<path d="M1340.7,818 Q1337,840 1340.7,859.5 M1445.2,818 Q1449,840 1445.2,859.5" class="ln" stroke-width="1.3"/>
<path d="M1366,815 Q1394.5,835 1423,815" class="ds"/>
<path d="M1306.5,842 L1319,863 M1479.5,842 L1467,863" class="ds"/>
<path d="M1392,826 V837 M1397,826 V837" class="ln" stroke-width="1.1"/>
<path d="M1340.7,870.3 Q1393,874 1445.2,870.3 M1336.1,904.1 Q1393,909 1450.4,904.1 M1330.2,947.2 Q1393,952 1457,947.2 M1323.1,999.4 Q1393,1004 1465,999.4" class="ln" stroke-width="1.3"/>
<path d="M1341,868.5 Q1393,872 1445,868.5 M1336,902.3 Q1393,907 1450.4,902.3 M1330.2,945.4 Q1393,950 1457,945.4 M1323.1,997.6 Q1393,1002 1465,997.6" class="ds" stroke-width="1.5"/>
<path d="M1318,1056 Q1394.5,1066 1471,1056" class="ds"/>
<path d="M1346,874 l-1,12 M1355,875 l1,10 M1364,875 l-2,14 M1375,876 l1,10 M1386,876 l-1,13 M1400,876 l2,11 M1411,876 l-1,14 M1422,875 l1,10 M1433,875 l-1,12 M1341,908 l-1,14 M1352,909 l1,12 M1363,910 l-2,15 M1376,910 l1,11 M1390,911 l-1,14 M1405,911 l2,12 M1418,910 l-1,15 M1431,910 l1,11 M1443,909 l-1,13 M1336,951 l-1,16 M1348,952 l1,12 M1361,953 l-2,15 M1375,953 l1,12 M1390,954 l-1,16 M1405,954 l2,12 M1420,953 l-1,15 M1435,953 l1,12 M1449,952 l-1,14 M1329,1003 l-1,17 M1342,1004 l1,13 M1356,1005 l-2,16 M1372,1005 l1,12 M1388,1006 l-1,17 M1404,1006 l2,13 M1420,1005 l-1,16 M1436,1005 l1,12 M1452,1004 l-1,15" class="gt"/>
<text x="1393" y="850" class="m">前身頃</text>
<text x="1393" y="862.9" class="m">（表）</text>
<!-- magnifier 1 -->
<path d="M1279.2,859.5 L1303.8,845.7 L1288.4,866" class="ln" stroke-width="1.4"/>
<circle cx="1247" cy="893.4" r="44.6" class="lw"/>
<g clip-path="url(#c2)">
<path d="M1264.7,845 V906" class="ln" stroke-width="1.5"/>
<path d="M1200,885.6 H1260.7 M1200,907.2 H1260.7" class="ln" stroke-width="1.5"/>
<path d="M1200,889 H1259" class="ds"/>
<path d="M1260.7,885.6 Q1266.5,885.6 1266.5,891 L1266.5,902 Q1266.5,907.2 1260.7,907.2" class="ln" stroke-width="1.4"/>
<path d="M1261,889 L1261,904" class="ln" stroke-width="1"/>
</g>
<text x="1240.8" y="863.8" class="m">袖</text>
<text x="1240.8" y="876.1" class="m">（裏）</text>
<text x="1227.8" y="900.7" class="m">1cm</text>
<path d="M1237,903 Q1241,898 1242,890" class="th"/>
<text x="1280.7" y="891.5" class="m">1cm</text>
<text x="1280.7" y="903.8" class="m">折る</text>
<path d="M1271,890 L1267,893 M1271,898 L1267,900" class="th"/>
<text x="1147" y="870" textLength="47.6" lengthAdjust="spacingAndGlyphs">0.2cm幅</text>
<text x="1147" y="882.9">ステッチ</text>
<path d="M1193,878 L1206,887" class="th"/>
<!-- magnifier 2 -->
<path d="M1280,1053 L1311.5,1060.9 L1286,1044" class="ln" stroke-width="1.4"/>
<circle cx="1247.7" cy="1027" r="44.2" class="lw"/>
<g clip-path="url(#c3)">
<path d="M1264.7,980 V1042" class="ln" stroke-width="1.5"/>
<path d="M1200,1020.9 H1260.7 M1200,1042.5 H1260.7" class="ln" stroke-width="1.5"/>
<path d="M1200,1024.5 H1259" class="ds"/>
<path d="M1260.7,1020.9 Q1266.5,1020.9 1266.5,1026 L1266.5,1037 Q1266.5,1042.5 1260.7,1042.5" class="ln" stroke-width="1.4"/>
<path d="M1261,1024 L1261,1039" class="ln" stroke-width="1"/>
</g>
<text x="1240.8" y="998.5" class="m">身頃</text>
<text x="1240.8" y="1011.4" class="m">（裏）</text>
<text x="1227.8" y="1036" class="m">1cm</text>
<path d="M1237,1038 Q1241,1033 1242,1026" class="th"/>
<text x="1280.7" y="1026.8" class="m">1cm</text>
<text x="1280.7" y="1039.1" class="m">折る</text>
<path d="M1271,1025 L1267,1028 M1271,1033 L1267,1035" class="th"/>
<text x="1145.4" y="1004.3" textLength="47.7" lengthAdjust="spacingAndGlyphs">0.2cm幅</text>
<text x="1145.4" y="1017">ステッチ</text>
<path d="M1192,1012 L1205,1021" class="th"/>
</g>
</svg>
</body></html>
